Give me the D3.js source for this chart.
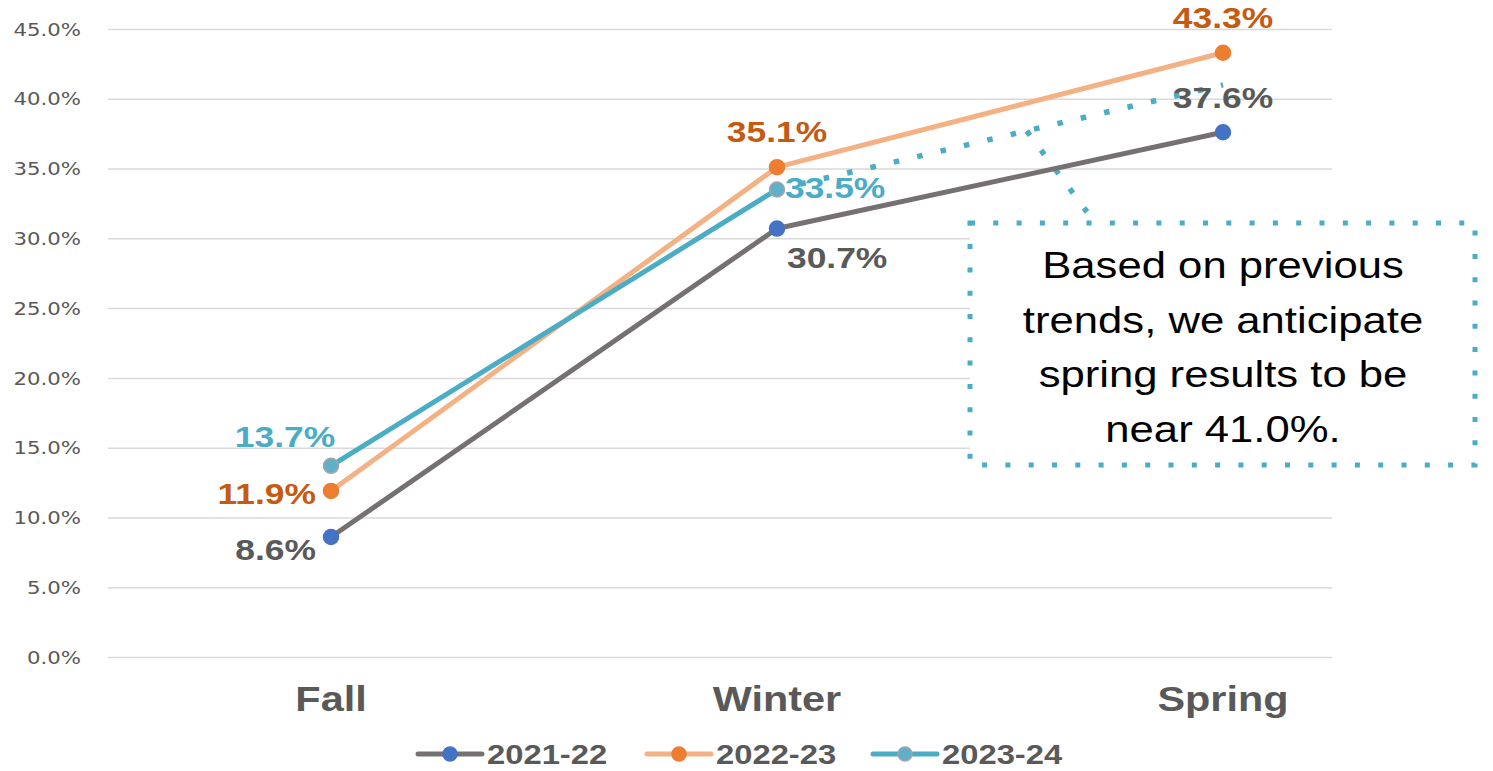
<!DOCTYPE html>
<html>
<head>
<meta charset="utf-8">
<script src="https://cdn.jsdelivr.net/npm/d3@7"></script>
<style>
  html, body { margin: 0; padding: 0; background: #ffffff; }
  svg { display: block; }
</style>
</head>
<body>
<svg id="chart" width="1493" height="771"></svg>
<script>
// ---------------- DATA ----------------
const categories = ["Fall", "Winter", "Spring"];
const seriesNames = ["2021-22", "2022-23", "2023-24"];
const values2021_22 = [8.6, 30.7, 37.6];
const values2022_23 = [11.9, 35.1, 43.3];
const values2023_24 = [13.7, 33.5];
const yTickValues = [0, 5, 10, 15, 20, 25, 30, 35, 40, 45];
const projectedSpring = 41.0;
const noteLines = ["Based on previous", "trends, we anticipate", "spring results to be", "near 41.0%."];

// ---------------- STYLE / LAYOUT ----------------
const W = 1493, H = 771;
const plotLeft = 108, plotRight = 1332, plotTop = 29, plotBottom = 657;
const STRETCH = 1.18;              // horizontal text stretch seen in the reference
const FONT = "'Liberation Sans', Arial, Helvetica, sans-serif";

const seriesStyle = [
  { line: "#767171", fill: "#4472c4", stroke: "#4472c4", label: "#595959" },
  { line: "#f4b183", fill: "#ed7d31", stroke: "#ed7d31", label: "#c55a11" },
  { line: "#4bacc6", fill: "#5fb0c8", stroke: "#a5a5a5", label: "#4bacc6" }
];
// label placement per series per point: [anchor, dx, dy]
const labelPlacement = [
  [["end", -15, 23], ["start", 10, 39], ["middle", 0, -24]],
  [["end", -15, 13], ["middle", 0, -25], ["middle", 0, -25]],
  [["middle", -46, -19], ["start", 8, 9]]
];

const seriesValues = [values2021_22, values2022_23, values2023_24];

const svg = d3.select("#chart");
svg.append("rect").attr("width", W).attr("height", H).attr("fill", "#ffffff");

const x = d3.scalePoint().domain(categories).range([331, 1223]);
const y = d3.scaleLinear().domain([0, 45]).range([plotBottom, plotTop]);

function stretchedText(g, tx, ty, str, opts) {
  return g.append("text")
    .attr("transform", `translate(${tx},${ty}) scale(${opts.sx || STRETCH},1)`)
    .attr("text-anchor", opts.anchor || "middle")
    .attr("font-family", opts.family || FONT)
    .attr("font-size", opts.size)
    .attr("font-weight", opts.weight || "normal")
    .attr("fill", opts.fill || "#595959")
    .text(str);
}

// ---------------- GRID + Y AXIS ----------------
const yAxis = d3.axisLeft(y)
  .tickValues(yTickValues)
  .tickSize(-(plotRight - plotLeft))
  .tickFormat(d => d3.format(".1f")(d) + "%");

const yg = svg.append("g")
  .attr("transform", `translate(${plotLeft},0)`)
  .call(yAxis);
yg.select(".domain").remove();
yg.selectAll(".tick line").attr("stroke", "#d9d9d9").attr("stroke-width", 1.5);
yg.selectAll(".tick text")
  .attr("x", null)
  .attr("dy", "0.36em")
  .attr("transform", "translate(-27,0) scale(1.25,1)")
  .attr("font-family", "'DejaVu Sans', Verdana, sans-serif")
  .attr("font-size", 17)
  .attr("fill", "#595959");

// ---------------- CATEGORY LABELS ----------------
const xg = svg.append("g");
categories.forEach(c => {
  stretchedText(xg, x(c), 711, c, { size: 36, weight: "bold", fill: "#595959", sx: 1.15 });
});

// ---------------- NOTE BOX ----------------
const noteG = svg.append("g");
const boxX = 970, boxY = 223, boxW = 505, boxH = 242;
noteG.append("rect")
  .attr("x", boxX).attr("y", boxY).attr("width", boxW).attr("height", boxH)
  .attr("fill", "#ffffff")
  .attr("stroke", "#4bacc6")
  .attr("stroke-width", 5)
  .attr("stroke-dasharray", "5,18.3");
noteLines.forEach((t, i) => {
  stretchedText(noteG, 1223, 278 + i * 54.6, t, { size: 37, fill: "#000000" });
});

// ---------------- PROJECTION (dotted) ----------------
const projG = svg.append("g");
const last23 = values2023_24.length - 1;
projG.append("line")
  .attr("x1", x(categories[last23]))
  .attr("y1", y(values2023_24[last23]))
  .attr("x2", x(categories[2]))
  .attr("y2", y(projectedSpring))
  .attr("stroke", "#4bacc6")
  .attr("stroke-width", 5.5)
  .attr("stroke-dasharray", "5.5,18.5")
  .attr("stroke-dashoffset", -24);
// connector from box to projection line
const tConn = 0.56;
const cx0 = x(categories[1]) + (x(categories[2]) - x(categories[1])) * tConn;
const cy0 = y(values2023_24[1]) + (y(projectedSpring) - y(values2023_24[1])) * tConn;
projG.append("line")
  .attr("x1", cx0).attr("y1", cy0)
  .attr("x2", 1087).attr("y2", 212)
  .attr("stroke", "#4bacc6")
  .attr("stroke-width", 5.5)
  .attr("stroke-dasharray", "5.5,18.5");

// ---------------- SERIES LINES ----------------
const lineGen = d3.line()
  .x((d, i) => x(categories[i]))
  .y(d => y(d));

const seriesG = svg.append("g");
seriesValues.forEach((vals, s) => {
  seriesG.append("path")
    .datum(vals)
    .attr("d", lineGen)
    .attr("fill", "none")
    .attr("stroke", seriesStyle[s].line)
    .attr("stroke-width", 5)
    .attr("stroke-linejoin", "round")
    .attr("stroke-linecap", "round");
});
seriesValues.forEach((vals, s) => {
  seriesG.selectAll(null)
    .data(vals)
    .enter().append("circle")
    .attr("cx", (d, i) => x(categories[i]))
    .attr("cy", d => y(d))
    .attr("r", 7.5)
    .attr("fill", seriesStyle[s].fill)
    .attr("stroke", seriesStyle[s].stroke)
    .attr("stroke-width", 1.5);
});

// ---------------- DATA LABELS ----------------
const labelG = svg.append("g");
seriesValues.forEach((vals, s) => {
  vals.forEach((v, i) => {
    const p = labelPlacement[s][i];
    stretchedText(labelG, x(categories[i]) + p[1], y(v) + p[2], d3.format(".1f")(v) + "%",
      { size: 30, weight: "bold", fill: seriesStyle[s].label, anchor: p[0] });
  });
});

// ---------------- LEGEND ----------------
const legendG = svg.append("g");
const legendStarts = [418, 647, 873];
seriesNames.forEach((n, s) => {
  const lx = legendStarts[s], ly = 754;
  legendG.append("line")
    .attr("x1", lx).attr("x2", lx + 64).attr("y1", ly).attr("y2", ly)
    .attr("stroke", seriesStyle[s].line).attr("stroke-width", 5).attr("stroke-linecap", "round");
  legendG.append("circle")
    .attr("cx", lx + 32).attr("cy", ly).attr("r", 7)
    .attr("fill", seriesStyle[s].fill)
    .attr("stroke", seriesStyle[s].stroke).attr("stroke-width", 1.5);
  stretchedText(legendG, lx + 69, ly + 10, n, { size: 28, weight: "bold", fill: "#595959", anchor: "start", sx: 1.17 });
});
</script>
</body>
</html>
